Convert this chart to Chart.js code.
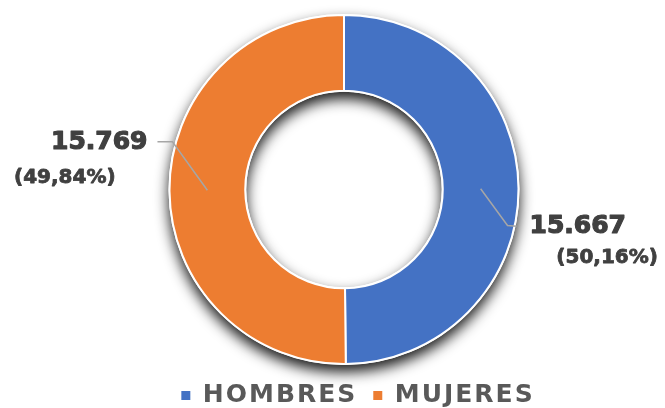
<!DOCTYPE html>
<html lang="es">
<head>
<meta charset="utf-8">
<title>Hombres y mujeres</title>
<script src="https://cdn.jsdelivr.net/npm/chart.js@4/dist/chart.umd.min.js"></script>
<style>
  html, body {
    margin: 0;
    padding: 0;
    background: #ffffff;
  }
  #genderChart {
    display: block;
  }
</style>
</head>
<body>
<canvas id="genderChart" width="665" height="408"></canvas>
<script>
const categories = ["HOMBRES", "MUJERES"];
const values = [15667, 15769];
const valueLabels = ["15.667", "15.769"];
const percentLabels = ["(50,16%)", "(49,84%)"];
const sliceColors = ["#4472C4", "#ED7D31"];

const FONT_FAMILY = "'DejaVu Sans', 'Liberation Sans', Arial, sans-serif";

// leader line + label placement, in units of the outer radius (index matches categories)
const labelLayout = [
  { elbow: [0.937, 0.206], end: [0.989, 0.211], num: [1.063, 0.211], pct: [1.217, 0.394], align: "left" },
  { elbow: [-0.983, -0.274], end: [-1.069, -0.274], num: [-1.126, -0.269], pct: [-1.309, -0.069], align: "right" },
];

const letterSpacingPlugin = {
  id: "letterSpacing",
  beforeLayout(chart) {
    chart.ctx.letterSpacing = "2px";
  },
  afterLayout(chart) {
    // nudge the legend right and down, like the original
    if (chart.legend) {
      chart.legend.left += 14;
      chart.legend.right += 14;
      chart.legend.top += 2;
      chart.legend.bottom += 2;
    }
  },
  beforeDraw(chart) {
    chart.ctx.letterSpacing = "2px";
  },
};

const ringShadowPlugin = {
  id: "ringShadow",
  beforeDatasetsDraw(chart) {
    const arc = chart.getDatasetMeta(0).data[0];
    if (!arc) return;

    const { x, y, outerRadius, innerRadius } = arc.getProps(["x", "y", "outerRadius", "innerRadius"], true);
    const ctx = chart.ctx;

    ctx.save();
    ctx.beginPath();
    ctx.arc(x, y, outerRadius + 1, 0, Math.PI * 2);
    ctx.arc(x, y, innerRadius - 1, 0, Math.PI * 2, true);
    ctx.closePath();
    ctx.shadowColor = "rgba(0, 0, 0, 0.9)";
    ctx.shadowBlur = 14;
    ctx.shadowOffsetY = 7;
    ctx.fillStyle = "#ffffff";
    ctx.fill();
    ctx.restore();
  },
};

const sliceLabelsPlugin = {
  id: "sliceLabels",
  afterDatasetsDraw(chart) {
    const meta = chart.getDatasetMeta(0);
    const ctx = chart.ctx;

    meta.data.forEach((arc, i) => {
      const layout = labelLayout[i];
      if (!layout) return;

      const { x, y, outerRadius } = arc.getProps(["x", "y", "outerRadius"], true);
      const anchor = arc.tooltipPosition(true);
      const px = (p) => x + p[0] * outerRadius;
      const py = (p) => y + p[1] * outerRadius;

      ctx.save();
      ctx.letterSpacing = "0px";

      ctx.strokeStyle = "#a6a6a6";
      ctx.lineWidth = 1.5;
      ctx.beginPath();
      ctx.moveTo(anchor.x, anchor.y);
      ctx.lineTo(px(layout.elbow), py(layout.elbow));
      ctx.lineTo(px(layout.end), py(layout.end));
      ctx.stroke();

      ctx.fillStyle = "#404040";
      ctx.strokeStyle = "#404040";
      ctx.lineJoin = "round";
      ctx.textAlign = layout.align;
      ctx.textBaseline = "middle";

      ctx.font = `bold 25px ${FONT_FAMILY}`;
      ctx.lineWidth = 1.2;
      ctx.fillText(valueLabels[i], px(layout.num), py(layout.num));
      ctx.strokeText(valueLabels[i], px(layout.num), py(layout.num));

      ctx.font = `bold 20px ${FONT_FAMILY}`;
      ctx.lineWidth = 0.8;
      ctx.fillText(percentLabels[i], px(layout.pct), py(layout.pct));
      ctx.strokeText(percentLabels[i], px(layout.pct), py(layout.pct));

      ctx.restore();
    });
  },
};

function legendLabels(chart) {
  const items = Chart.overrides.doughnut.plugins.legend.labels.generateLabels(chart);
  items.forEach((item) => {
    item.lineWidth = 0;
    item.strokeStyle = item.fillStyle;
  });
  return items;
}

const canvas = document.getElementById("genderChart");

new Chart(canvas, {
  type: "doughnut",
  data: {
    labels: categories,
    datasets: [
      {
        data: values,
        backgroundColor: sliceColors,
        borderColor: "#ffffff",
        borderWidth: 2,
        hoverOffset: 0,
      },
    ],
  },
  options: {
    responsive: false,
    animation: false,
    devicePixelRatio: 1,
    cutout: "56.6%",
    layout: {
      padding: { top: 14, left: 23, right: 0, bottom: 0 },
    },
    plugins: {
      legend: {
        position: "bottom",
        maxHeight: 43,
        labels: {
          boxWidth: 9,
          boxHeight: 9,
          padding: 16,
          color: "#595959",
          font: { family: FONT_FAMILY, weight: "bold", size: 25 },
          generateLabels: legendLabels,
        },
      },
      tooltip: { enabled: false },
    },
  },
  plugins: [letterSpacingPlugin, ringShadowPlugin, sliceLabelsPlugin],
});
</script>
</body>
</html>
